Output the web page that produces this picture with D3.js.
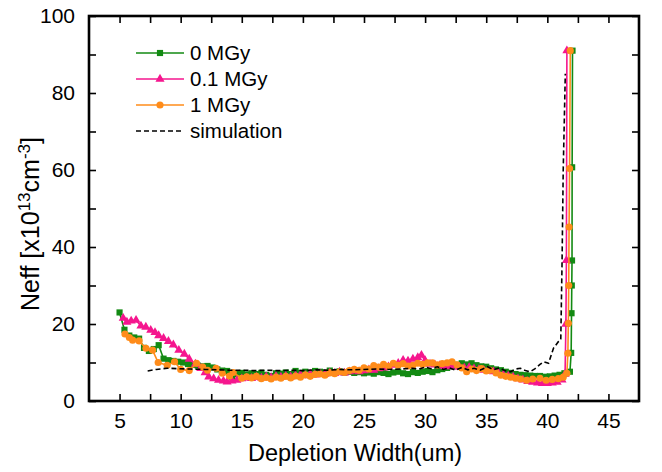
<!DOCTYPE html>
<html>
<head>
<meta charset="utf-8">
<script src="https://cdn.jsdelivr.net/npm/d3@7"></script>
<style>
  body { margin: 0; background: #fff; }
  svg { font-family: "Liberation Sans", Arial, sans-serif; }
</style>
</head>
<body>
<svg id="chart" width="662" height="472"></svg>
<script>
// depth (um) and Neff (x1e13 cm^-3)
const depth0 = [5.0,5.4,5.8,6.2,6.6,7.0,7.4,7.8,8.2,8.6,9.0,9.4,9.8,10.2,10.6,11.0,11.4,11.8,12.2,12.6,13.0,13.4,13.8,14.2,14.6,15.0,15.4,15.8,16.2,16.6,17.0,17.4,17.8,18.2,18.6,19.0,19.4,19.8,20.2,20.6,21.0,21.4,21.8,22.2,22.6,23.0,23.4,23.8,24.2,24.6,25.0,25.4,25.8,26.2,26.6,27.0,27.4,27.8,28.2,28.6,29.0,29.4,29.8,30.2,30.6,31.0,31.4,31.8,32.2,32.6,33.0,33.4,33.8,34.2,34.6,35.0,35.4,35.8,36.2,36.6,37.0,37.4,37.8,38.2,38.6,39.0,39.4,39.8,40.2,40.6,41.0,41.4,41.85,41.95,41.98,42.0,42.02,42.03,42.06];
const neff0 = [23.0,18.5,17.0,16.5,16.2,13.8,13.0,13.5,14.5,11.0,10.6,10.4,10.2,10.0,9.6,9.4,9.2,9.0,9.1,8.7,8.2,7.9,7.8,6.3,7.0,7.3,6.9,7.2,7.0,7.3,6.8,6.5,7.2,7.1,7.4,7.0,7.8,7.3,7.6,7.2,7.8,7.6,7.4,7.9,7.5,7.7,7.4,7.6,7.3,7.5,7.2,7.4,7.1,7.5,7.3,7.0,7.4,7.6,7.2,7.0,7.5,7.3,7.6,7.8,7.5,8.0,8.3,8.6,9.0,9.4,9.8,9.5,9.8,9.3,9.0,8.9,8.5,8.2,8.0,7.6,7.3,7.0,6.8,6.7,6.6,6.5,6.5,6.3,6.4,6.6,6.8,7.2,7.6,12.5,22.8,30.0,36.5,60.7,91.0];

const depth1 = [5.3,5.6,5.95,6.35,6.75,7.15,7.55,7.9,8.2,8.6,9.0,9.4,9.85,10.3,10.7,11.2,11.65,12.0,12.3,12.7,13.1,13.5,13.8,14.2,14.6,15.0,15.4,15.8,16.2,16.6,17.0,17.4,17.8,18.2,18.6,19.0,19.4,19.8,20.2,20.6,21.0,21.4,21.8,22.2,22.6,23.0,23.4,23.8,24.2,24.6,25.0,25.4,25.8,26.2,26.6,27.0,27.4,27.8,28.2,28.6,29.0,29.4,29.7,30.0,30.4,30.8,31.2,31.6,32.0,32.4,32.8,33.2,33.6,34.0,34.4,34.8,35.2,35.6,36.0,36.4,36.8,37.2,37.6,38.0,38.4,38.8,39.2,39.6,40.0,40.4,40.8,41.2,41.45,41.52,41.56,41.6];
const neff1 = [21.5,20.5,20.8,21.0,19.5,19.2,18.4,17.8,17.0,16.3,15.5,14.6,13.2,12.2,10.9,9.6,8.5,7.4,6.3,5.8,5.4,5.2,5.0,5.2,5.4,5.8,6.0,5.9,6.2,6.0,6.3,6.1,6.4,6.2,6.5,6.3,6.6,6.8,6.6,7.0,6.8,7.1,7.0,7.3,7.2,7.5,7.3,7.6,7.8,7.6,7.9,8.1,8.0,8.4,8.6,8.9,9.3,9.8,10.6,10.4,10.9,11.3,11.9,10.5,9.6,9.4,9.2,9.0,8.9,9.1,8.8,8.6,8.7,8.4,8.2,8.0,7.8,7.6,7.2,6.8,6.5,6.2,5.8,5.5,5.1,4.9,4.7,4.6,4.6,4.7,4.9,5.5,7.0,20.0,36.5,91.0];

const depth2 = [5.44,5.8,6.07,6.6,7.16,7.7,8.16,8.9,9.5,10.0,10.7,11.3,11.8,12.2,12.9,13.4,14.0,14.3,15.0,15.4,15.8,16.2,16.6,17.0,17.4,17.8,18.2,18.6,19.0,19.4,19.8,20.2,20.6,21.0,21.4,21.8,22.2,22.6,23.0,23.4,23.8,24.2,24.6,25.0,25.4,25.8,26.2,26.6,27.0,27.4,27.8,28.2,28.6,29.0,29.4,29.8,30.2,30.6,31.0,31.4,31.8,32.2,32.6,33.0,33.4,33.8,34.2,34.6,35.0,35.3,35.8,36.2,36.6,37.0,37.4,37.8,38.3,38.8,39.4,39.9,40.4,40.9,41.3,41.6,41.68,41.72,41.75,41.78,41.82,41.88];
const neff2 = [17.4,16.5,15.8,15.6,13.7,13.2,10.0,9.3,10.2,8.2,7.9,9.8,8.8,8.0,8.5,7.2,6.5,7.4,5.9,6.3,6.0,6.4,5.8,6.1,5.7,6.2,5.9,6.4,6.0,6.5,6.2,6.8,6.4,6.9,7.0,6.7,7.3,7.1,7.6,7.4,7.9,8.2,8.0,8.6,8.3,9.2,8.8,9.5,9.0,9.8,9.3,9.7,9.1,9.3,9.8,9.5,9.9,9.9,9.4,9.7,9.9,10.2,9.4,8.6,7.6,8.3,7.9,8.4,7.8,8.0,7.3,6.7,6.4,6.2,5.9,5.7,5.4,5.7,5.9,5.4,5.6,5.8,6.2,7.2,12.4,20.2,30.0,45.2,60.4,91.0];

const depthSim = [7.3,8.0,8.9,9.8,10.8,12,13,14,15,16,17,18,19,20,21,22,23,24,25,26,27,28,29,29.5,30,30.5,31,31.5,32,32.5,33,33.5,34,34.5,35.1,35.6,36.1,36.5,37.0,37.4,37.8,38.2,38.6,39.0,39.4,39.7,40.1,40.5,40.9,41.1,41.2,41.3,41.47];
const neffSim = [7.8,8.2,8.5,8.4,8.3,8.2,8.1,8.0,8.0,7.9,8.0,7.9,8.0,7.9,8.1,8.0,8.2,8.1,8.2,8.3,8.2,8.3,8.5,8.3,8.8,8.4,8.9,8.2,8.6,8.0,8.7,8.1,8.5,8.0,8.9,8.1,8.6,7.9,7.6,8.3,8.5,7.9,7.6,8.4,9.5,10.2,9.8,13.7,15.4,15.8,35,60,85];

const xTicks = d3.range(5, 45.1, 2.5);
const yTicks = d3.range(0, 100.1, 10);

const series = [
  {name: "0 MGy",   color: "#138a13", marker: "square",   xs: depth0, ys: neff0},
  {name: "0.1 MGy", color: "#f5168e", marker: "triangle", xs: depth1, ys: neff1},
  {name: "1 MGy",   color: "#ff8c1a", marker: "circle",   xs: depth2, ys: neff2},
];

const svg = d3.select("#chart");
const width = 662, height = 472;
const marginLeft = 89, marginRight = 23, marginTop = 16, marginBottom = 71;

const x = d3.scaleLinear().domain([2.5, 47.5]).range([marginLeft, width - marginRight]);
const y = d3.scaleLinear().domain([0, 100]).range([height - marginBottom, marginTop]);

const symbolOf = {
  square: d3.symbol(d3.symbolSquare, 38),
  triangle: d3.symbol(d3.symbolTriangle, 36),
  circle: d3.symbol(d3.symbolCircle, 40),
};

const line = d3.line().x(d => x(d[0])).y(d => y(d[1]));

// data
series.forEach(s => {
  const pts = s.xs.map((v, i) => [v, s.ys[i]]);
  const g = svg.append("g");
  g.append("path")
    .attr("d", line(pts))
    .attr("fill", "none")
    .attr("stroke", s.color)
    .attr("stroke-width", 1.6);
  g.selectAll("path.m")
    .data(pts)
    .join("path")
    .attr("class", "m")
    .attr("d", symbolOf[s.marker])
    .attr("transform", d => `translate(${x(d[0])},${y(d[1])})`)
    .attr("fill", s.color);
});

svg.append("path")
  .attr("d", line(depthSim.map((v, i) => [v, neffSim[i]])))
  .attr("fill", "none")
  .attr("stroke", "#000")
  .attr("stroke-width", 1.6)
  .attr("stroke-dasharray", "5,3");

// axes: inward ticks on all four sides
const fmtX = d => d % 5 === 0 ? d : "";
const fmtY = d => d % 20 === 0 ? d : "";

svg.append("g")
  .attr("transform", `translate(0,${height - marginBottom})`)
  .call(d3.axisBottom(x).tickValues(xTicks).tickSize(-7).tickPadding(12).tickFormat(fmtX))
  .call(g => g.select(".domain").remove());
svg.append("g")
  .attr("transform", `translate(0,${marginTop})`)
  .call(d3.axisTop(x).tickValues(xTicks).tickSize(-7).tickFormat(""))
  .call(g => g.select(".domain").remove());
svg.append("g")
  .attr("transform", `translate(${marginLeft},0)`)
  .call(d3.axisLeft(y).tickValues(yTicks).tickSize(-7).tickPadding(14).tickFormat(fmtY))
  .call(g => g.select(".domain").remove());
svg.append("g")
  .attr("transform", `translate(${width - marginRight},0)`)
  .call(d3.axisRight(y).tickValues(yTicks).tickSize(-7).tickFormat(""))
  .call(g => g.select(".domain").remove());

svg.selectAll(".tick line").attr("stroke", "#000").attr("stroke-width", 1.6);
svg.selectAll(".tick text")
  .attr("fill", "#000")
  .style("font-size", "21px")
  .style("font-family", "'Liberation Sans', Arial, sans-serif");

// frame
svg.append("rect")
  .attr("x", marginLeft).attr("y", marginTop)
  .attr("width", width - marginLeft - marginRight)
  .attr("height", height - marginTop - marginBottom)
  .attr("fill", "none")
  .attr("stroke", "#000")
  .attr("stroke-width", 2.6);

// axis titles
svg.append("text")
  .attr("x", 355)
  .attr("y", 461)
  .attr("text-anchor", "middle")
  .style("font-size", "23.5px")
  .text("Depletion Width(um)");

const yt = svg.append("text")
  .attr("transform", "translate(39,224) rotate(-90)")
  .attr("text-anchor", "middle")
  .style("font-size", "25px");
yt.append("tspan").text("Neff [x10");
yt.append("tspan").attr("baseline-shift", "super").style("font-size", "17px").text("13");
yt.append("tspan").text("cm");
yt.append("tspan").attr("baseline-shift", "super").style("font-size", "17px").text("-3");
yt.append("tspan").text("]");

// legend
const legendItems = [...series, {name: "simulation", color: "#000", marker: null}];
const legend = svg.append("g").attr("transform", "translate(136,53)");
legendItems.forEach((s, i) => {
  const g = legend.append("g").attr("transform", `translate(0,${i * 26})`);
  g.append("line")
    .attr("x1", 0).attr("x2", 48)
    .attr("stroke", s.color)
    .attr("stroke-width", 1.6)
    .attr("stroke-dasharray", s.marker ? null : "5,3");
  if (s.marker) {
    g.append("path")
      .attr("d", symbolOf[s.marker])
      .attr("transform", "translate(24,0)")
      .attr("fill", s.color);
  }
  g.append("text")
    .attr("x", 54)
    .attr("dy", "0.35em")
    .style("font-size", "20.5px")
    .text(s.name);
});
</script>
</body>
</html>
